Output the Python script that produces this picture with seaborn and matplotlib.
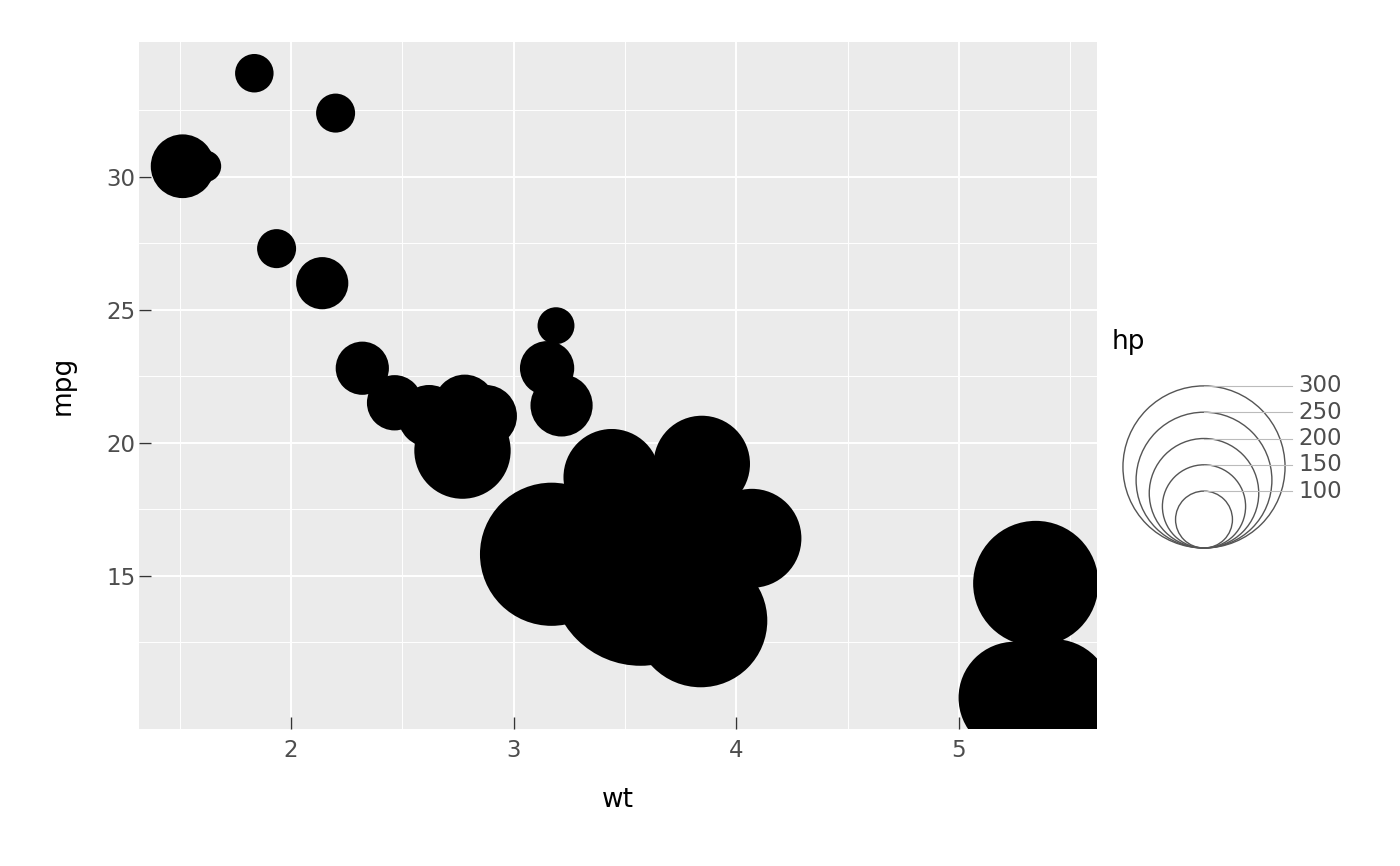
import numpy as np
import pandas as pd
import matplotlib
matplotlib.use("Agg")
import matplotlib.pyplot as plt
from matplotlib.patches import Circle
from matplotlib.ticker import FixedLocator
import seaborn as sns

# mtcars: weight, fuel use, horsepower
wt = [2.620, 2.875, 2.320, 3.215, 3.440, 3.460, 3.570, 3.190, 3.150, 3.440, 3.440,
      4.070, 3.730, 3.780, 5.250, 5.424, 5.345, 2.200, 1.615, 1.835, 2.465, 3.520,
      3.435, 3.840, 3.845, 1.935, 2.140, 1.513, 3.170, 2.770, 3.570, 2.780]
mpg = [21.0, 21.0, 22.8, 21.4, 18.7, 18.1, 14.3, 24.4, 22.8, 19.2, 17.8,
       16.4, 17.3, 15.2, 10.4, 10.4, 14.7, 32.4, 30.4, 33.9, 21.5, 15.5,
       15.2, 13.3, 19.2, 27.3, 26.0, 30.4, 15.8, 19.7, 15.0, 21.4]
hp = [110, 110, 93, 110, 175, 105, 245, 62, 95, 123, 123,
      180, 180, 180, 205, 215, 230, 66, 52, 65, 97, 150,
      150, 245, 175, 66, 91, 113, 264, 175, 335, 109]
legend_breaks = [100, 150, 200, 250, 300]
x_major = [2, 3, 4, 5]
x_minor = [1.5, 2.5, 3.5, 4.5, 5.5]
y_major = [15, 20, 25, 30]
y_minor = [12.5, 17.5, 22.5, 27.5, 32.5]

data = pd.DataFrame({"wt": wt, "mpg": mpg, "hp": hp})


def diam_px(h):
    # point diameter in pixels grows linearly with hp
    return 4.3 + 0.526 * h


sizes = {h: (diam_px(h) * 0.72) ** 2 for h in sorted(set(hp))}

W, H = 1400, 866
fig = plt.figure(figsize=(W / 100, H / 100), dpi=100)
ax = fig.add_axes([139 / W, 1 - 729 / H, (1097 - 139) / W, (729 - 42) / H])
ax.set_facecolor("#EBEBEB")

sns.scatterplot(x="wt", y="mpg", size="hp", sizes=sizes, data=data,
                color="black", linewidth=0, legend=False, ax=ax, zorder=3)

ax.set_xlim(1.317, 5.620)
ax.set_ylim(9.225, 35.075)
ax.xaxis.set_major_locator(FixedLocator(x_major))
ax.xaxis.set_minor_locator(FixedLocator(x_minor))
ax.yaxis.set_major_locator(FixedLocator(y_major))
ax.yaxis.set_minor_locator(FixedLocator(y_minor))
ax.grid(which="major", color="white", linewidth=1.4, zorder=0)
ax.grid(which="minor", color="white", linewidth=0.7, zorder=0)
ax.set_axisbelow(True)
for s in ax.spines.values():
    s.set_visible(False)
ax.tick_params(which="major", direction="in", length=8.5, width=1.0,
               color="#333333", labelcolor="#4D4D4D", labelsize=16.5)
ax.tick_params(axis="x", pad=7)
ax.tick_params(axis="y", pad=2.5)
ax.tick_params(which="minor", length=0)
ax.set_xlabel("wt", fontsize=19, color="black", labelpad=18)
ax.set_ylabel("mpg", fontsize=19, color="black", labelpad=22)

# size legend drawn in pixel coordinates
lg = fig.add_axes([0, 0, 1, 1], zorder=5)
lg.set_xlim(0, W)
lg.set_ylim(H, 0)
lg.axis("off")
lg.patch.set_alpha(0)
cx, by = 1204, 548
for b in legend_breaks:
    d = diam_px(b)
    lg.plot([cx, 1292], [by - d, by - d], color="#BBBBBB", linewidth=0.8)
for b in legend_breaks:
    d = diam_px(b)
    lg.add_patch(Circle((cx, by - d / 2), d / 2, fill=False,
                        edgecolor="#555555", linewidth=1.0))
    lg.text(1298, by - d, str(b), fontsize=16.5, color="#4D4D4D",
            ha="left", va="center")
lg.text(1112, 342, "hp", fontsize=19, color="black", ha="left", va="center")

fig.savefig("out.png", dpi=100)
